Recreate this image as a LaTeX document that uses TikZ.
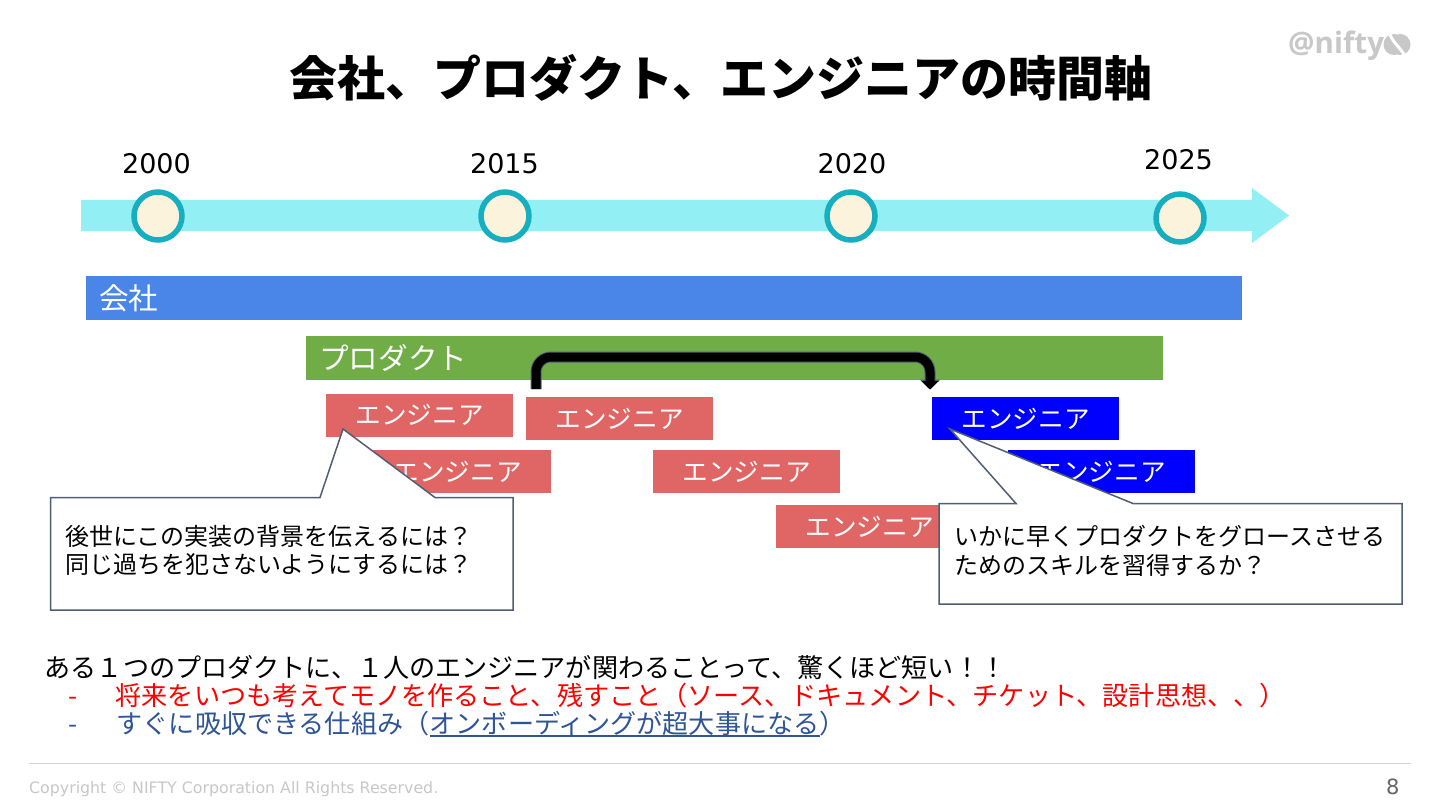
\documentclass[tikz,border=0pt]{standalone}
\usepackage{fontspec}
\setmainfont{Noto Sans CJK JP}
\newfontfamily\latinfont{DejaVu Sans}
\newfontfamily\logofont{Open Sans}
\usetikzlibrary{arrows.meta}
\definecolor{bandc}{HTML}{92EFF4}
\definecolor{ringc}{HTML}{17AEBF}
\definecolor{dotc}{HTML}{FBF3DC}
\definecolor{compc}{HTML}{4A86E8}
\definecolor{prodc}{HTML}{70AD47}
\definecolor{redc}{HTML}{E06666}
\definecolor{edgec}{HTML}{4F5F73}
\definecolor{linkc}{HTML}{2F5597}
\definecolor{graytxt}{HTML}{C8C8C8}
\newcommand{\fs}[1]{\fontsize{#1}{#1}\selectfont}
\tikzset{
  txt/.style={inner sep=0pt,anchor=base west},
  yeartxt/.style={inner sep=0pt,anchor=base,font=\latinfont\fs{27}},
  dot/.style={circle,draw=ringc,fill=dotc,line width=5.5pt,minimum size=48pt,inner sep=0pt},
  barbox/.style={anchor=west,minimum height=44pt,inner ysep=0pt,inner xsep=13pt,text=white,align=left,font=\fs{29.6}},
  engred/.style={fill=redc,minimum width=187pt,minimum height=43pt,inner sep=0pt,text=white,font=\fs{25.6},anchor=north west},
  engblue/.style={engred,fill=blue},
  callout/.style={draw=edgec,fill=white,line width=1.5pt,line join=miter},
  calltxt/.style={txt,font=\fs{24}},
  bottomtxt/.style={txt,font=\fs{26.1}},
}
\begin{document}
\begin{tikzpicture}[x=1pt,y=-1pt]
\useasboundingbox (0,0) rectangle (1440,810);
\fill[white] (0,0) rectangle (1440,810);
% title
\node[txt,font=\bfseries\fs{48}] (title) at (289.5,96.5) {会社、プロダクト、エンジニアの時間軸};
% logo
\node[txt,text=graytxt,font=\logofont\bfseries\fs{29.5}] (logo) at (1288,54) {@nifty};
\fill[graytxt] (1394,44.5) circle (10.5pt) (1400,44.5) circle (10.5pt);
\draw[white,line width=3pt] (1389,33) .. controls (1394,44) and (1399,46) .. (1405,56);
% timeline
\fill[bandc] (81,200) -- (1252,200) -- (1252,188) -- (1289,215.5) -- (1252,243) -- (1252,231) -- (81,231) -- cycle;
\node[dot] (d1) at (158,216) {};
\node[dot] (d2) at (505,216) {};
\node[dot] (d3) at (851,216) {};
\node[dot] (d4) at (1180,218) {};
\node[yeartxt] (y1) at (156.5,174) {2000};
\node[yeartxt] (y2) at (504.5,174) {2015};
\node[yeartxt] (y3) at (852,174) {2020};
\node[yeartxt] (y4) at (1178.5,170) {2025};
% bars
\node[barbox,fill=compc,text width=1130pt] (comp) at (86,298) {\raisebox{-1pt}{会社}};
\node[barbox,fill=prodc,text width=831pt] (prod) at (306,358) {\raisebox{-1pt}{プロダクト}};
% engineers
\node[engred] (e1) at (326,393.5) {\raisebox{-1pt}{エンジニア}};
\node[engred] (e2) at (364,450) {\raisebox{-1pt}{エンジニア}};
\node[engred] (e3) at (526,397) {\raisebox{-1pt}{エンジニア}};
\node[engred] (e4) at (653,450) {\raisebox{-1pt}{エンジニア}};
\node[engred] (e5) at (776,505) {\raisebox{-1pt}{エンジニア}};
\node[engblue] (e6) at (932,397) {\raisebox{-1pt}{エンジニア}};
\node[engblue] (e7) at (1008,450) {\raisebox{-1pt}{エンジニア}};
% elbow arrow
\coordinate (as) at (536,389);
\coordinate (ae) at (930,389.5);
\draw[edgec,line width=11pt,rounded corners=15pt,-{Triangle[width=20pt,length=10pt]}] (as) -- (536,357) -- (930,357) -- (ae);
\draw[black,line width=9pt,rounded corners=15pt,-{Triangle[width=17pt,length=8.5pt]}] (as) -- (536,357) -- (930,357) -- (ae);
% callouts
\draw[callout] (50.5,497.5) -- (320,497.5) -- (343,429) -- (435,497.5) -- (513,497.5) -- (513,610) -- (50.5,610) -- cycle;
\node[calltxt] (c1a) at (65,545) {後世にこの実装の背景を伝えるには？};
\node[calltxt] (c1b) at (65,573) {同じ過ちを犯さないようにするには？};
\draw[callout] (939,503.5) -- (1016,503.5) -- (950,429) -- (1133,503.5) -- (1402,503.5) -- (1402,604) -- (939,604) -- cycle;
\node[calltxt] (c2a) at (954,545) {いかに早くプロダクトをグロースさせる};
\node[calltxt] (c2b) at (954,574) {ためのスキルを習得するか？};
% bottom text
\node[bottomtxt] (l1) at (44.5,677) {ある１つのプロダクトに、１人のエンジニアが関わることって、驚くほど短い！！};
\node[bottomtxt,text=red] (l2d) at (68,705) {-};
\node[bottomtxt,text=red] (l2) at (115.5,705) {将来をいつも考えてモノを作ること、残すこと（ソース、ドキュメント、チケット、設計思想、、）};
\node[bottomtxt,text=linkc] (l3d) at (68,733) {-};
\node[bottomtxt,text=linkc] (l3a) at (116.5,733) {すぐに吸収できる仕組み（};
\node[bottomtxt,text=linkc] (l3b) at (l3a.base east) {オンボーディングが超大事になる};
\node[bottomtxt,text=linkc] (l3c) at (l3b.base east) {）};
\draw[linkc,line width=1.5pt] ([yshift=-3pt]l3b.base west) -- ([yshift=-3pt]l3b.base east);
% footer
\draw[graytxt!80,line width=1.2pt] (29,763.5) -- (1411,763.5);
\node[txt,text=graytxt,font=\latinfont\fs{15.8}] (copy) at (29,793) {Copyright © NIFTY Corporation All Rights Reserved.};
\node[txt,text=black!60,font=\latinfont\fs{21}] (page) at (1386,794) {8};
\end{tikzpicture}
\end{document}
